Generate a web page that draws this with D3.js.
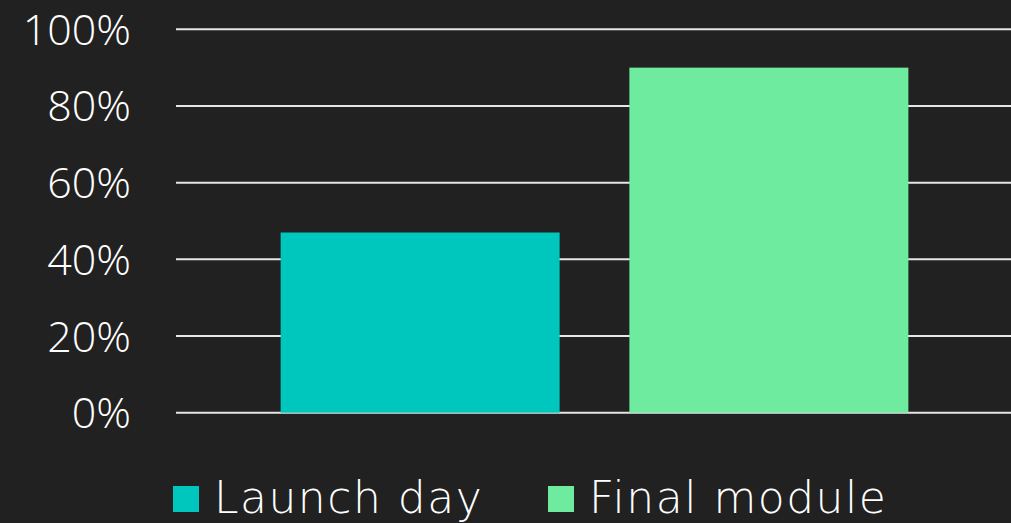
<!DOCTYPE html>
<html>
    <head>
        <script src="https://d3js.org/d3.v7.min.js"></script>
        <style>
            body { margin: 0; background-color: #212121; }
            svg { display: block; }
            text { font-family: 'Open Sans', 'DejaVu Sans', sans-serif; font-weight: 300; fill: #ffffff; }
            .legend text { font-family: 'DejaVu Sans', sans-serif; font-weight: 200; letter-spacing: 1.5px; }
        </style>
    </head>
    <body>
        <script>
            const categories = ['Launch day', 'Final module']
            const values = [47, 90]
            const colors = ['#00C7BE', '#6FEBA0']
            const yTicks = [0, 20, 40, 60, 80, 100]

            const W = 1011
            const H = 523

            const svg = d3.select('body').append('svg')
                .attr('width', W)
                .attr('height', H)

            svg.append('rect')
                .attr('width', W).attr('height', H)
                .attr('fill', '#212121')

            const yScale = d3.scaleLinear().domain([0, 100]).range([412.7, 29.3])
            const xScale = d3.scaleBand()
                .domain(categories)
                .range([176, 1013])
                .paddingInner(0.2)
                .paddingOuter(0.3)

            // gridlines
            svg.append('g').selectAll('line')
                .data(yTicks).enter()
                .append('line')
                    .attr('x1', 176).attr('x2', W)
                    .attr('y1', d => yScale(d)).attr('y2', d => yScale(d))
                    .attr('stroke', '#e6e6e6')
                    .attr('stroke-width', 2)

            // y labels
            svg.append('g').selectAll('text')
                .data(yTicks).enter()
                .append('text')
                    .attr('x', 131)
                    .attr('y', d => yScale(d))
                    .attr('dy', '0.36em')
                    .attr('text-anchor', 'end')
                    .style('font-size', '43px')
                    .text(d => d + '%')

            // bars
            svg.append('g').selectAll('rect')
                .data(values).enter()
                .append('rect')
                    .attr('x', (d, i) => xScale(categories[i]))
                    .attr('width', xScale.bandwidth())
                    .attr('y', d => yScale(d))
                    .attr('height', d => yScale(0) - yScale(d))
                    .attr('fill', (d, i) => colors[i])

            // legend
            const legendX = [173, 548]
            const legend = svg.append('g').attr('class', 'legend')
                .selectAll('g')
                .data(categories).enter()
                .append('g')
                    .attr('transform', (d, i) => `translate(${legendX[i]}, 486)`)
            legend.append('rect')
                .attr('width', 26).attr('height', 26)
                .attr('fill', (d, i) => colors[i])
            legend.append('text')
                .attr('x', 41)
                .attr('y', 27)
                .style('font-size', '44px')
                .text(d => d)
        </script>
    </body>
</html>
